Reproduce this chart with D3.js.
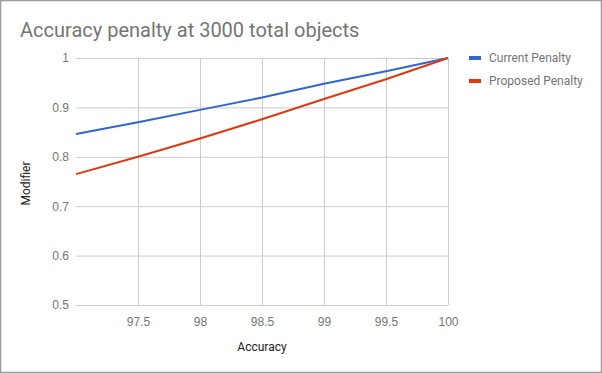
<!DOCTYPE html>
<html>
<head>
<meta charset="utf-8">
<script src="https://cdn.jsdelivr.net/npm/d3@7"></script>
<style>
  body { margin: 0; background: #fff; }
  svg { display: block; font-family: Roboto, "Noto Sans", sans-serif; }
</style>
</head>
<body>
<svg id="chart"></svg>
<script>
// values
var accuracy = [97, 97.5, 98, 98.5, 99, 99.5, 100];
var currentPenalty = [0.846, 0.870, 0.895, 0.920, 0.948, 0.973, 1.0];
var proposedPenalty = [0.765, 0.800, 0.837, 0.876, 0.917, 0.957, 1.0];
var xTicks = [97.5, 98, 98.5, 99, 99.5, 100];
var yTicks = [0.5, 0.6, 0.7, 0.8, 0.9, 1];
var seriesNames = ["Current Penalty", "Proposed Penalty"];
var seriesColors = ["#3366cc", "#dc3912"];

var width = 602, height = 373;
var margin = { top: 58, right: 154, bottom: 68, left: 76 };
var innerW = width - margin.left - margin.right,
    innerH = height - margin.top - margin.bottom;

var svg = d3.select("#chart")
  .attr("width", width)
  .attr("height", height);

svg.append("rect")
  .attr("x", 0.5).attr("y", 0.5)
  .attr("width", width - 1).attr("height", height - 1)
  .attr("fill", "#fff")
  .attr("stroke", "#9a9a9a")
  .attr("stroke-width", 1.5);

svg.append("text")
  .attr("x", 20).attr("y", 37)
  .attr("fill", "#757575")
  .style("font-size", "20px")
  .text("Accuracy penalty at 3000 total objects");

var x = d3.scaleLinear().domain([97, 100]).range([0, innerW]);
var y = d3.scaleLinear().domain([0.5, 1]).range([innerH, 0]);

var g = svg.append("g")
  .attr("transform", "translate(" + margin.left + "," + margin.top + ")");

// grid
g.append("g")
  .call(d3.axisLeft(y).tickValues(yTicks).tickSize(-innerW).tickPadding(7)
    .tickFormat(d3.format("~g")))
  .call(function (a) {
    a.select(".domain").remove();
    a.selectAll("line").attr("stroke", "#cccccc");
    a.selectAll("text").attr("fill", "#757575").style("font-size", "12px");
  });

g.append("g")
  .attr("transform", "translate(0," + innerH + ")")
  .call(d3.axisBottom(x).tickValues(xTicks).tickSize(innerH)
    .tickFormat(d3.format("~g")))
  .call(function (a) {
    a.select(".domain").remove();
    a.selectAll("line").attr("stroke", "#cccccc").attr("transform", "translate(0," + (-innerH) + ")");
    a.selectAll("text").attr("fill", "#757575").style("font-size", "12px")
      .attr("y", 12).attr("dy", "0.71em");
  });

// axis titles
svg.append("text")
  .attr("x", margin.left + innerW / 2).attr("y", 351)
  .attr("text-anchor", "middle")
  .attr("fill", "#222")
  .style("font-size", "12px")
  .text("Accuracy");

svg.append("text")
  .attr("transform", "translate(30," + (margin.top + innerH / 2 + 2) + ") rotate(-90)")
  .attr("text-anchor", "middle")
  .attr("fill", "#222")
  .style("font-size", "12px")
  .text("Modifier");

// lines
var line = d3.line()
  .x(function (d) { return x(d[0]); })
  .y(function (d) { return y(d[1]); });

[currentPenalty, proposedPenalty].forEach(function (vals, i) {
  g.append("path")
    .datum(d3.zip(accuracy, vals))
    .attr("fill", "none")
    .attr("stroke", seriesColors[i])
    .attr("stroke-width", 2)
    .attr("d", line);
});

// legend
var legend = svg.append("g").attr("transform", "translate(469,58)");
seriesNames.forEach(function (name, i) {
  var row = legend.append("g").attr("transform", "translate(0," + (i * 23) + ")");
  row.append("rect")
    .attr("x", 0).attr("y", -2)
    .attr("width", 12).attr("height", 4)
    .attr("fill", seriesColors[i]);
  row.append("text")
    .attr("x", 20).attr("y", 0).attr("dy", "0.35em")
    .attr("fill", "#757575")
    .style("font-size", "12px")
    .text(name);
});
</script>
</body>
</html>
